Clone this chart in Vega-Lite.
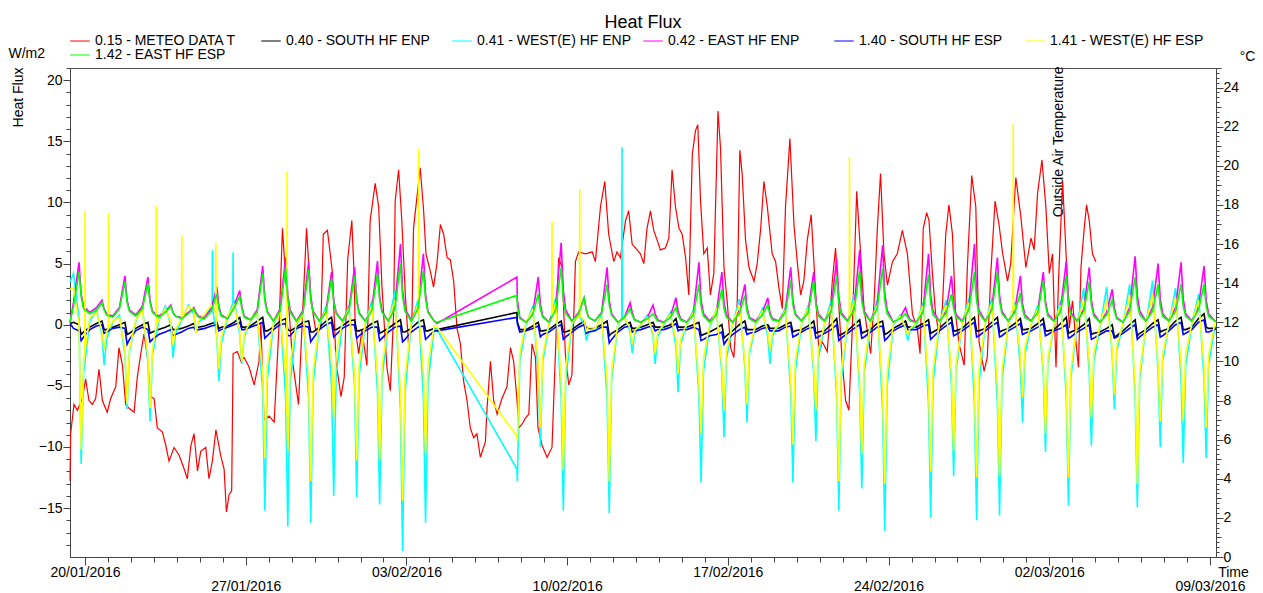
{
"$schema":"https://vega.github.io/schema/vega-lite/v6.json",
"width":1146,"height":489,
"autosize":"none",
"padding":{"left":70,"top":68,"right":47,"bottom":36},
"background":"white",
"title":{"text":"Heat Flux","anchor":"middle","font":"Liberation Sans","fontSize":18,"fontWeight":"normal","color":"#000","offset":2},
"config":{
"view":{"stroke":"#555","strokeWidth":1},
"axis":{"labelFont":"Liberation Sans","labelFontSize":14,"labelColor":"#000","titleFont":"Liberation Sans","titleFontSize":14,"titleFontWeight":"normal","titleColor":"#000","domainColor":"#444","tickColor":"#444","grid":false,"labelOverlap":false,"labelFlush":false}
},
"data":{"values":[
{"t":"2016-01-19T08:20","S1":0.1,"W1":3.5,"E1":0.2,"S2":0.1,"W2":2.9,"E2":0.2},
{"t":"2016-01-19T12:00","S1":0.2,"W1":4.2,"E1":1.8,"S2":-0.3,"W2":3.0,"E2":1.5},
{"t":"2016-01-19T17:45","S1":0.0,"W1":0.5,"E1":5.1,"S2":-0.5,"W2":0.0,"E2":4.3},
{"t":"2016-01-19T20:00","S1":-0.8,"W1":-11.4,"E1":2.5,"S2":-1.3,"W2":-10.2,"E2":2.3},
{"t":"2016-01-19T22:30","S1":-0.6,"W1":-4.0,"E1":1.5,"S2":-1.0,"W2":-3.0,"E2":1.3},
{"t":"2016-01-20T05:00","S1":-0.2,"W1":0.3,"E1":1.0,"S2":-0.4,"W2":0.6,"E2":0.9},
{"t":"2016-01-20T12:00","S1":0.1,"W1":1.2,"E1":1.4,"S2":-0.1,"W2":1.0,"E2":1.2},
{"t":"2016-01-20T17:45","S1":0.3,"W1":-0.8,"E1":2.0,"S2":0.0,"W2":-0.5,"E2":1.8},
{"t":"2016-01-20T20:00","S1":-0.4,"W1":-3.3,"E1":1.3,"S2":-0.7,"W2":-2.0,"E2":1.2},
{"t":"2016-01-20T22:30","S1":-0.4,"W1":-1.2,"E1":0.9,"S2":-0.6,"W2":-0.6,"E2":0.8},
{"t":"2016-01-21T05:00","S1":-0.2,"W1":0.2,"E1":0.7,"S2":-0.3,"W2":0.3,"E2":0.6},
{"t":"2016-01-21T12:00","S1":0.0,"W1":0.8,"E1":1.4,"S2":-0.2,"W2":0.6,"E2":1.3},
{"t":"2016-01-21T17:45","S1":0.2,"W1":-2.5,"E1":4.0,"S2":-0.3,"W2":-2.0,"E2":3.5},
{"t":"2016-01-21T20:00","S1":-0.8,"W1":-6.9,"E1":2.0,"S2":-1.6,"W2":-6.5,"E2":1.8},
{"t":"2016-01-21T22:30","S1":-0.7,"W1":-2.2,"E1":1.2,"S2":-1.2,"W2":-2.0,"E2":1.1},
{"t":"2016-01-22T05:00","S1":-0.3,"W1":0.3,"E1":0.8,"S2":-0.5,"W2":0.4,"E2":0.7},
{"t":"2016-01-22T12:00","S1":0.0,"W1":1.5,"E1":1.5,"S2":-0.2,"W2":1.2,"E2":1.3},
{"t":"2016-01-22T17:45","S1":0.2,"W1":-3.0,"E1":3.9,"S2":-0.4,"W2":-2.5,"E2":3.4},
{"t":"2016-01-22T20:00","S1":-0.7,"W1":-7.9,"E1":2.0,"S2":-1.4,"W2":-6.8,"E2":1.8},
{"t":"2016-01-22T22:30","S1":-0.6,"W1":-2.5,"E1":1.1,"S2":-1.2,"W2":-2.1,"E2":1.0},
{"t":"2016-01-23T05:00","S1":-0.4,"W1":0.3,"E1":0.7,"S2":-0.8,"W2":0.4,"E2":0.6},
{"t":"2016-01-23T12:00","S1":-0.2,"W1":1.5,"E1":1.1,"S2":-0.6,"W2":1.3,"E2":1.0},
{"t":"2016-01-23T17:45","S1":0.0,"W1":0.0,"E1":1.6,"S2":-0.4,"W2":0.3,"E2":1.5},
{"t":"2016-01-23T20:00","S1":-0.4,"W1":-2.7,"E1":1.0,"S2":-0.9,"W2":-1.7,"E2":1.0},
{"t":"2016-01-23T22:30","S1":-0.4,"W1":-0.8,"E1":0.7,"S2":-0.8,"W2":-0.4,"E2":0.7},
{"t":"2016-01-24T05:00","S1":-0.3,"W1":0.4,"E1":0.6,"S2":-0.6,"W2":0.5,"E2":0.5},
{"t":"2016-01-24T12:00","S1":-0.1,"W1":1.6,"E1":1.0,"S2":-0.3,"W2":1.5,"E2":0.9},
{"t":"2016-01-24T17:45","S1":0.1,"W1":0.9,"E1":1.4,"S2":-0.2,"W2":1.2,"E2":1.3},
{"t":"2016-01-24T20:00","S1":-0.2,"W1":-0.5,"E1":1.0,"S2":-0.5,"W2":-0.7,"E2":0.9},
{"t":"2016-01-24T22:30","S1":-0.2,"W1":0.2,"E1":0.7,"S2":-0.4,"W2":0.3,"E2":0.6},
{"t":"2016-01-25T05:00","S1":-0.1,"W1":0.6,"E1":0.6,"S2":-0.3,"W2":0.9,"E2":0.5},
{"t":"2016-01-25T12:00","S1":0.1,"W1":1.5,"E1":1.3,"S2":-0.1,"W2":1.6,"E2":1.1},
{"t":"2016-01-25T17:45","S1":0.2,"W1":-1.0,"E1":3.1,"S2":0.0,"W2":-0.8,"E2":2.5},
{"t":"2016-01-25T20:00","S1":-0.3,"W1":-4.6,"E1":1.5,"S2":-0.5,"W2":-3.6,"E2":1.3},
{"t":"2016-01-25T22:30","S1":-0.2,"W1":-1.5,"E1":0.8,"S2":-0.4,"W2":-1.0,"E2":0.7},
{"t":"2016-01-26T05:00","S1":-0.1,"W1":0.5,"E1":0.5,"S2":-0.2,"W2":0.7,"E2":0.5},
{"t":"2016-01-26T12:00","S1":0.2,"W1":2.0,"E1":1.6,"S2":0.0,"W2":1.6,"E2":1.4},
{"t":"2016-01-26T17:45","S1":0.6,"W1":-0.8,"E1":2.8,"S2":0.2,"W2":-0.5,"E2":2.3},
{"t":"2016-01-26T20:00","S1":-0.2,"W1":-3.2,"E1":1.5,"S2":-0.4,"W2":-3.0,"E2":1.3},
{"t":"2016-01-26T22:30","S1":-0.2,"W1":-1.0,"E1":0.7,"S2":-0.4,"W2":-0.8,"E2":0.6},
{"t":"2016-01-27T05:00","S1":-0.1,"W1":0.3,"E1":0.4,"S2":-0.2,"W2":0.4,"E2":0.4},
{"t":"2016-01-27T12:00","S1":0.3,"W1":1.0,"E1":1.2,"S2":0.0,"W2":1.0,"E2":1.0},
{"t":"2016-01-27T17:45","S1":0.6,"W1":-5.5,"E1":4.8,"S2":0.2,"W2":-4.0,"E2":4.2},
{"t":"2016-01-27T20:00","S1":-0.5,"W1":-15.2,"E1":2.2,"S2":-1.1,"W2":-10.9,"E2":1.9},
{"t":"2016-01-27T22:30","S1":-0.5,"W1":-4.5,"E1":1.1,"S2":-0.9,"W2":-3.3,"E2":1.0},
{"t":"2016-01-28T05:00","S1":-0.2,"W1":0.0,"E1":0.3,"S2":-0.4,"W2":0.2,"E2":0.3},
{"t":"2016-01-28T12:00","S1":0.3,"W1":1.2,"E1":1.3,"S2":0.0,"W2":1.0,"E2":1.1},
{"t":"2016-01-28T17:45","S1":0.5,"W1":-6.0,"E1":5.5,"S2":0.1,"W2":-4.0,"E2":4.7},
{"t":"2016-01-28T20:00","S1":-0.4,"W1":-16.5,"E1":2.4,"S2":-0.9,"W2":-10.3,"E2":2.1},
{"t":"2016-01-28T22:30","S1":-0.5,"W1":-4.8,"E1":1.2,"S2":-0.9,"W2":-3.1,"E2":1.0},
{"t":"2016-01-29T05:00","S1":-0.2,"W1":0.0,"E1":0.3,"S2":-0.3,"W2":0.2,"E2":0.3},
{"t":"2016-01-29T12:00","S1":0.2,"W1":1.0,"E1":1.2,"S2":-0.1,"W2":0.8,"E2":1.0},
{"t":"2016-01-29T17:45","S1":0.3,"W1":-6.0,"E1":5.1,"S2":-0.2,"W2":-4.5,"E2":4.5},
{"t":"2016-01-29T20:00","S1":-0.6,"W1":-16.2,"E1":2.3,"S2":-1.4,"W2":-12.8,"E2":2.0},
{"t":"2016-01-29T22:30","S1":-0.6,"W1":-4.8,"E1":1.1,"S2":-1.1,"W2":-3.8,"E2":1.0},
{"t":"2016-01-30T05:00","S1":-0.2,"W1":0.0,"E1":0.3,"S2":-0.4,"W2":0.2,"E2":0.3},
{"t":"2016-01-30T12:00","S1":0.3,"W1":1.5,"E1":1.2,"S2":0.0,"W2":1.2,"E2":1.0},
{"t":"2016-01-30T17:45","S1":0.6,"W1":-5.0,"E1":4.3,"S2":0.2,"W2":-3.0,"E2":3.8},
{"t":"2016-01-30T20:00","S1":-0.4,"W1":-14.0,"E1":2.0,"S2":-1.0,"W2":-7.6,"E2":1.8},
{"t":"2016-01-30T22:30","S1":-0.4,"W1":-4.2,"E1":1.0,"S2":-0.8,"W2":-2.3,"E2":0.9},
{"t":"2016-01-31T05:00","S1":-0.1,"W1":0.0,"E1":0.3,"S2":-0.3,"W2":0.2,"E2":0.3},
{"t":"2016-01-31T12:00","S1":0.3,"W1":1.6,"E1":1.3,"S2":0.0,"W2":1.3,"E2":1.1},
{"t":"2016-01-31T17:45","S1":0.4,"W1":-5.0,"E1":4.7,"S2":0.0,"W2":-4.0,"E2":4.0},
{"t":"2016-01-31T20:00","S1":-0.5,"W1":-14.1,"E1":2.1,"S2":-1.1,"W2":-11.1,"E2":1.9},
{"t":"2016-01-31T22:30","S1":-0.5,"W1":-4.2,"E1":1.0,"S2":-0.9,"W2":-3.3,"E2":0.9},
{"t":"2016-02-01T05:00","S1":-0.3,"W1":0.0,"E1":0.3,"S2":-0.5,"W2":0.2,"E2":0.3},
{"t":"2016-02-01T12:00","S1":0.1,"W1":2.0,"E1":1.4,"S2":-0.2,"W2":1.5,"E2":1.2},
{"t":"2016-02-01T17:45","S1":0.3,"W1":-5.5,"E1":5.2,"S2":-0.2,"W2":-4.2,"E2":4.2},
{"t":"2016-02-01T20:00","S1":-0.7,"W1":-14.7,"E1":2.3,"S2":-1.3,"W2":-11.1,"E2":2.0},
{"t":"2016-02-01T22:30","S1":-0.6,"W1":-4.4,"E1":1.1,"S2":-1.1,"W2":-3.3,"E2":1.0},
{"t":"2016-02-02T05:00","S1":-0.3,"W1":0.0,"E1":0.3,"S2":-0.6,"W2":0.2,"E2":0.3},
{"t":"2016-02-02T12:00","S1":0.1,"W1":2.8,"E1":1.5,"S2":-0.2,"W2":2.0,"E2":1.3},
{"t":"2016-02-02T17:45","S1":0.4,"W1":-7.0,"E1":6.6,"S2":-0.1,"W2":-5.5,"E2":5.0},
{"t":"2016-02-02T20:00","S1":-0.6,"W1":-18.5,"E1":2.8,"S2":-1.4,"W2":-14.4,"E2":2.3},
{"t":"2016-02-02T22:30","S1":-0.6,"W1":-5.5,"E1":1.3,"S2":-1.2,"W2":-4.3,"E2":1.1},
{"t":"2016-02-03T05:00","S1":-0.3,"W1":0.0,"E1":0.4,"S2":-0.6,"W2":0.2,"E2":0.3},
{"t":"2016-02-03T12:00","S1":0.2,"W1":2.0,"E1":1.5,"S2":-0.2,"W2":1.6,"E2":1.3},
{"t":"2016-02-03T17:45","S1":0.4,"W1":-6.0,"E1":5.8,"S2":-0.1,"W2":-4.0,"E2":4.4},
{"t":"2016-02-03T20:00","S1":-0.5,"W1":-16.2,"E1":2.5,"S2":-1.2,"W2":-10.6,"E2":2.1},
{"t":"2016-02-03T22:30","S1":-0.5,"W1":-4.8,"E1":1.1,"S2":-1.0,"W2":-3.2,"E2":1.0},
{"t":"2016-02-04T05:00","S1":-0.3,"W1":-0.3,"E1":0.3,"S2":-0.5,"W2":-0.1,"E2":0.3},
{"t":"2016-02-04T08:00","S1":-0.4,"W1":-0.4,"E1":0.1,"S2":-0.5,"W2":-0.2,"E2":0.2},
{"t":"2016-02-07T19:30","S1":1.0,"W1":-11.8,"E1":3.9,"S2":0.6,"W2":-9.1,"E2":2.4},
{"t":"2016-02-07T20:00","S1":0.2,"W1":-12.8,"E1":2.0,"S2":0.1,"W2":-9.5,"E2":1.5},
{"t":"2016-02-07T22:30","S1":-0.4,"W1":-3.0,"E1":0.6,"S2":-0.6,"W2":-2.3,"E2":0.5},
{"t":"2016-02-08T05:00","S1":-0.4,"W1":0.0,"E1":0.2,"S2":-0.5,"W2":0.2,"E2":0.2},
{"t":"2016-02-08T12:00","S1":-0.1,"W1":1.5,"E1":0.9,"S2":-0.3,"W2":1.2,"E2":0.8},
{"t":"2016-02-08T17:45","S1":0.2,"W1":-3.8,"E1":3.9,"S2":-0.1,"W2":-3.0,"E2":2.5},
{"t":"2016-02-08T20:00","S1":-0.5,"W1":-10.0,"E1":1.7,"S2":-1.0,"W2":-8.4,"E2":1.3},
{"t":"2016-02-08T22:30","S1":-0.5,"W1":-3.0,"E1":0.7,"S2":-0.8,"W2":-2.5,"E2":0.6},
{"t":"2016-02-09T05:00","S1":-0.4,"W1":0.0,"E1":0.2,"S2":-0.6,"W2":0.2,"E2":0.2},
{"t":"2016-02-09T12:00","S1":0.0,"W1":2.2,"E1":1.5,"S2":-0.2,"W2":1.8,"E2":1.2},
{"t":"2016-02-09T17:45","S1":0.3,"W1":-6.0,"E1":6.7,"S2":0.0,"W2":-4.5,"E2":4.7},
{"t":"2016-02-09T20:00","S1":-0.6,"W1":-15.2,"E1":2.8,"S2":-1.2,"W2":-11.9,"E2":2.0},
{"t":"2016-02-09T22:30","S1":-0.6,"W1":-4.5,"E1":1.2,"S2":-1.0,"W2":-3.5,"E2":0.9},
{"t":"2016-02-10T05:00","S1":-0.4,"W1":0.0,"E1":0.3,"S2":-0.6,"W2":0.2,"E2":0.3},
{"t":"2016-02-10T12:00","S1":0.0,"W1":0.8,"E1":1.0,"S2":-0.2,"W2":0.7,"E2":0.9},
{"t":"2016-02-10T17:45","S1":0.3,"W1":0.0,"E1":2.2,"S2":0.0,"W2":0.4,"E2":2.2},
{"t":"2016-02-10T20:00","S1":-0.3,"W1":-1.3,"E1":1.2,"S2":-0.7,"W2":-0.5,"E2":1.2},
{"t":"2016-02-10T22:30","S1":-0.3,"W1":-0.6,"E1":0.6,"S2":-0.6,"W2":-0.2,"E2":0.6},
{"t":"2016-02-11T05:00","S1":-0.3,"W1":-0.5,"E1":0.3,"S2":-0.5,"W2":-0.3,"E2":0.3},
{"t":"2016-02-11T12:00","S1":0.0,"W1":0.8,"E1":1.0,"S2":-0.2,"W2":0.6,"E2":0.9},
{"t":"2016-02-11T17:45","S1":0.3,"W1":-6.0,"E1":4.7,"S2":-0.2,"W2":-4.5,"E2":3.3},
{"t":"2016-02-11T20:00","S1":-0.9,"W1":-15.4,"E1":2.0,"S2":-1.5,"W2":-12.8,"E2":1.6},
{"t":"2016-02-11T22:30","S1":-0.7,"W1":-4.5,"E1":0.9,"S2":-1.2,"W2":-3.8,"E2":0.8},
{"t":"2016-02-12T05:00","S1":-0.4,"W1":0.0,"E1":0.2,"S2":-0.6,"W2":0.1,"E2":0.2},
{"t":"2016-02-12T12:00","S1":0.0,"W1":0.7,"E1":0.6,"S2":-0.2,"W2":0.6,"E2":0.6},
{"t":"2016-02-12T17:45","S1":0.2,"W1":-0.6,"E1":1.8,"S2":-0.1,"W2":-0.3,"E2":1.3},
{"t":"2016-02-12T20:00","S1":-0.3,"W1":-2.3,"E1":1.0,"S2":-0.6,"W2":-1.6,"E2":0.8},
{"t":"2016-02-12T22:30","S1":-0.3,"W1":-0.8,"E1":0.4,"S2":-0.5,"W2":-0.5,"E2":0.4},
{"t":"2016-02-13T05:00","S1":-0.2,"W1":0.0,"E1":0.2,"S2":-0.4,"W2":0.1,"E2":0.2},
{"t":"2016-02-13T12:00","S1":0.0,"W1":0.8,"E1":0.6,"S2":-0.2,"W2":0.6,"E2":0.5},
{"t":"2016-02-13T17:45","S1":0.2,"W1":-0.9,"E1":1.6,"S2":-0.1,"W2":-0.6,"E2":0.9},
{"t":"2016-02-13T20:00","S1":-0.2,"W1":-3.2,"E1":0.9,"S2":-0.5,"W2":-2.4,"E2":0.6},
{"t":"2016-02-13T22:30","S1":-0.2,"W1":-1.0,"E1":0.4,"S2":-0.4,"W2":-0.7,"E2":0.3},
{"t":"2016-02-14T05:00","S1":-0.2,"W1":0.0,"E1":0.2,"S2":-0.4,"W2":0.1,"E2":0.2},
{"t":"2016-02-14T12:00","S1":0.0,"W1":1.0,"E1":0.7,"S2":-0.2,"W2":0.8,"E2":0.6},
{"t":"2016-02-14T17:45","S1":0.5,"W1":-1.8,"E1":2.2,"S2":0.1,"W2":-1.2,"E2":1.4},
{"t":"2016-02-14T20:00","S1":-0.2,"W1":-5.5,"E1":1.1,"S2":-0.5,"W2":-4.0,"E2":0.8},
{"t":"2016-02-14T22:30","S1":-0.2,"W1":-1.6,"E1":0.5,"S2":-0.4,"W2":-1.2,"E2":0.4},
{"t":"2016-02-15T05:00","S1":-0.2,"W1":0.0,"E1":0.2,"S2":-0.4,"W2":0.1,"E2":0.2},
{"t":"2016-02-15T12:00","S1":0.0,"W1":1.2,"E1":1.0,"S2":-0.2,"W2":1.0,"E2":0.8},
{"t":"2016-02-15T17:45","S1":0.2,"W1":-5.8,"E1":5.1,"S2":-0.4,"W2":-4.8,"E2":3.3},
{"t":"2016-02-15T20:00","S1":-0.9,"W1":-12.9,"E1":2.0,"S2":-1.3,"W2":-8.9,"E2":1.5},
{"t":"2016-02-15T22:30","S1":-0.8,"W1":-3.8,"E1":0.9,"S2":-1.2,"W2":-2.7,"E2":0.7},
{"t":"2016-02-16T05:00","S1":-0.6,"W1":-0.2,"E1":0.3,"S2":-0.9,"W2":0.0,"E2":0.2},
{"t":"2016-02-16T12:00","S1":-0.3,"W1":1.3,"E1":1.0,"S2":-0.8,"W2":1.2,"E2":0.8},
{"t":"2016-02-16T17:45","S1":0.0,"W1":-4.0,"E1":4.3,"S2":-0.6,"W2":-3.5,"E2":2.9},
{"t":"2016-02-16T20:00","S1":-1.1,"W1":-9.2,"E1":1.8,"S2":-1.6,"W2":-7.0,"E2":1.3},
{"t":"2016-02-16T22:30","S1":-0.9,"W1":-2.8,"E1":0.8,"S2":-1.3,"W2":-2.1,"E2":0.6},
{"t":"2016-02-17T05:00","S1":-0.5,"W1":0.0,"E1":0.2,"S2":-0.8,"W2":0.1,"E2":0.2},
{"t":"2016-02-17T12:00","S1":0.0,"W1":2.1,"E1":1.2,"S2":-0.4,"W2":1.6,"E2":0.9},
{"t":"2016-02-17T17:45","S1":0.3,"W1":-3.5,"E1":3.3,"S2":-0.2,"W2":-3.0,"E2":2.4},
{"t":"2016-02-17T20:00","S1":-0.4,"W1":-8.0,"E1":1.4,"S2":-0.8,"W2":-6.5,"E2":1.1},
{"t":"2016-02-17T22:30","S1":-0.4,"W1":-2.4,"E1":0.6,"S2":-0.7,"W2":-2.0,"E2":0.5},
{"t":"2016-02-18T05:00","S1":-0.4,"W1":0.0,"E1":0.3,"S2":-0.6,"W2":0.1,"E2":0.2},
{"t":"2016-02-18T12:00","S1":-0.1,"W1":1.3,"E1":1.0,"S2":-0.3,"W2":1.1,"E2":0.8},
{"t":"2016-02-18T17:45","S1":0.0,"W1":-1.0,"E1":2.2,"S2":-0.2,"W2":-0.6,"E2":1.6},
{"t":"2016-02-18T20:00","S1":-0.3,"W1":-3.2,"E1":1.0,"S2":-0.5,"W2":-2.1,"E2":0.8},
{"t":"2016-02-18T22:30","S1":-0.3,"W1":-1.0,"E1":0.5,"S2":-0.5,"W2":-0.7,"E2":0.4},
{"t":"2016-02-19T05:00","S1":-0.3,"W1":0.0,"E1":0.3,"S2":-0.5,"W2":0.1,"E2":0.3},
{"t":"2016-02-19T12:00","S1":0.0,"W1":1.4,"E1":1.2,"S2":-0.2,"W2":1.2,"E2":1.0},
{"t":"2016-02-19T17:45","S1":0.2,"W1":-5.5,"E1":4.7,"S2":-0.1,"W2":-4.5,"E2":3.6},
{"t":"2016-02-19T20:00","S1":-0.6,"W1":-12.9,"E1":2.0,"S2":-1.0,"W2":-9.8,"E2":1.6},
{"t":"2016-02-19T22:30","S1":-0.5,"W1":-3.8,"E1":0.9,"S2":-0.9,"W2":-2.9,"E2":0.8},
{"t":"2016-02-20T05:00","S1":-0.4,"W1":0.0,"E1":0.3,"S2":-0.6,"W2":0.1,"E2":0.3},
{"t":"2016-02-20T12:00","S1":-0.1,"W1":1.6,"E1":1.2,"S2":-0.3,"W2":1.4,"E2":1.0},
{"t":"2016-02-20T17:45","S1":0.3,"W1":-4.0,"E1":4.3,"S2":-0.2,"W2":-3.5,"E2":3.6},
{"t":"2016-02-20T20:00","S1":-0.7,"W1":-9.5,"E1":1.9,"S2":-1.1,"W2":-7.0,"E2":1.6},
{"t":"2016-02-20T22:30","S1":-0.6,"W1":-2.8,"E1":0.9,"S2":-1.0,"W2":-2.1,"E2":0.7},
{"t":"2016-02-21T05:00","S1":-0.5,"W1":0.0,"E1":0.3,"S2":-0.7,"W2":0.1,"E2":0.3},
{"t":"2016-02-21T12:00","S1":0.0,"W1":2.0,"E1":1.4,"S2":-0.4,"W2":1.5,"E2":1.1},
{"t":"2016-02-21T17:45","S1":0.5,"W1":-6.0,"E1":5.4,"S2":0.0,"W2":-5.0,"E2":4.0},
{"t":"2016-02-21T20:00","S1":-0.9,"W1":-15.2,"E1":2.3,"S2":-1.3,"W2":-12.8,"E2":1.8},
{"t":"2016-02-21T22:30","S1":-0.8,"W1":-4.5,"E1":1.0,"S2":-1.1,"W2":-3.8,"E2":0.8},
{"t":"2016-02-22T05:00","S1":-0.5,"W1":0.0,"E1":0.3,"S2":-0.7,"W2":0.1,"E2":0.3},
{"t":"2016-02-22T12:00","S1":0.0,"W1":2.5,"E1":1.5,"S2":-0.3,"W2":2.0,"E2":1.2},
{"t":"2016-02-22T17:45","S1":0.4,"W1":-5.5,"E1":6.1,"S2":0.0,"W2":-4.5,"E2":4.4},
{"t":"2016-02-22T20:00","S1":-0.7,"W1":-13.4,"E1":2.5,"S2":-1.1,"W2":-10.6,"E2":1.9},
{"t":"2016-02-22T22:30","S1":-0.6,"W1":-4.0,"E1":1.1,"S2":-1.0,"W2":-3.2,"E2":0.9},
{"t":"2016-02-23T05:00","S1":-0.4,"W1":0.0,"E1":0.3,"S2":-0.6,"W2":0.1,"E2":0.3},
{"t":"2016-02-23T12:00","S1":0.1,"W1":2.0,"E1":1.6,"S2":-0.2,"W2":1.6,"E2":1.3},
{"t":"2016-02-23T17:45","S1":0.3,"W1":-7.0,"E1":6.5,"S2":-0.1,"W2":-5.5,"E2":4.6},
{"t":"2016-02-23T20:00","S1":-0.8,"W1":-16.9,"E1":2.6,"S2":-1.3,"W2":-13.0,"E2":2.0},
{"t":"2016-02-23T22:30","S1":-0.7,"W1":-5.0,"E1":1.2,"S2":-1.1,"W2":-3.9,"E2":0.9},
{"t":"2016-02-24T05:00","S1":-0.3,"W1":0.0,"E1":0.2,"S2":-0.5,"W2":0.1,"E2":0.2},
{"t":"2016-02-24T12:00","S1":0.0,"W1":0.8,"E1":0.6,"S2":-0.2,"W2":0.7,"E2":0.5},
{"t":"2016-02-24T17:45","S1":0.3,"W1":-0.3,"E1":1.4,"S2":0.0,"W2":-0.2,"E2":0.9},
{"t":"2016-02-24T20:00","S1":-0.2,"W1":-1.3,"E1":0.8,"S2":-0.4,"W2":-0.8,"E2":0.6},
{"t":"2016-02-24T22:30","S1":-0.2,"W1":-0.5,"E1":0.4,"S2":-0.4,"W2":-0.3,"E2":0.3},
{"t":"2016-02-25T05:00","S1":-0.2,"W1":0.0,"E1":0.2,"S2":-0.4,"W2":0.1,"E2":0.2},
{"t":"2016-02-25T12:00","S1":0.1,"W1":1.8,"E1":1.2,"S2":-0.1,"W2":1.5,"E2":1.0},
{"t":"2016-02-25T17:45","S1":0.4,"W1":-6.5,"E1":5.8,"S2":0.0,"W2":-5.0,"E2":4.1},
{"t":"2016-02-25T20:00","S1":-0.7,"W1":-15.8,"E1":2.4,"S2":-1.2,"W2":-12.0,"E2":1.8},
{"t":"2016-02-25T22:30","S1":-0.6,"W1":-4.7,"E1":1.1,"S2":-1.0,"W2":-3.6,"E2":0.8},
{"t":"2016-02-26T05:00","S1":-0.3,"W1":0.0,"E1":0.3,"S2":-0.5,"W2":0.1,"E2":0.3},
{"t":"2016-02-26T12:00","S1":0.2,"W1":2.0,"E1":1.1,"S2":-0.1,"W2":1.6,"E2":0.9},
{"t":"2016-02-26T17:45","S1":0.6,"W1":-5.0,"E1":4.0,"S2":0.2,"W2":-4.0,"E2":2.5},
{"t":"2016-02-26T20:00","S1":-0.5,"W1":-12.4,"E1":1.8,"S2":-0.9,"W2":-10.3,"E2":1.3},
{"t":"2016-02-26T22:30","S1":-0.5,"W1":-3.7,"E1":0.8,"S2":-0.8,"W2":-3.1,"E2":0.6},
{"t":"2016-02-27T05:00","S1":-0.3,"W1":0.0,"E1":0.3,"S2":-0.5,"W2":0.1,"E2":0.3},
{"t":"2016-02-27T12:00","S1":0.2,"W1":2.2,"E1":1.5,"S2":-0.1,"W2":1.8,"E2":1.2},
{"t":"2016-02-27T17:45","S1":0.6,"W1":-6.5,"E1":6.6,"S2":0.2,"W2":-5.0,"E2":4.3},
{"t":"2016-02-27T20:00","S1":-0.5,"W1":-16.0,"E1":2.6,"S2":-1.0,"W2":-12.5,"E2":1.9},
{"t":"2016-02-27T22:30","S1":-0.5,"W1":-4.8,"E1":1.2,"S2":-0.9,"W2":-3.7,"E2":0.9},
{"t":"2016-02-28T05:00","S1":-0.3,"W1":0.0,"E1":0.3,"S2":-0.5,"W2":0.1,"E2":0.3},
{"t":"2016-02-28T12:00","S1":0.2,"W1":2.2,"E1":1.4,"S2":-0.1,"W2":1.8,"E2":1.2},
{"t":"2016-02-28T17:45","S1":0.6,"W1":-6.5,"E1":5.5,"S2":0.2,"W2":-5.0,"E2":4.3},
{"t":"2016-02-28T20:00","S1":-0.6,"W1":-15.6,"E1":2.4,"S2":-1.0,"W2":-12.4,"E2":1.9},
{"t":"2016-02-28T22:30","S1":-0.5,"W1":-4.7,"E1":1.1,"S2":-0.9,"W2":-3.7,"E2":0.9},
{"t":"2016-02-29T05:00","S1":-0.3,"W1":0.0,"E1":0.3,"S2":-0.5,"W2":0.1,"E2":0.3},
{"t":"2016-02-29T12:00","S1":0.1,"W1":1.8,"E1":1.2,"S2":-0.2,"W2":1.5,"E2":1.0},
{"t":"2016-02-29T17:45","S1":0.5,"W1":-3.5,"E1":4.0,"S2":0.1,"W2":-2.5,"E2":2.6},
{"t":"2016-02-29T20:00","S1":-0.4,"W1":-8.0,"E1":1.7,"S2":-0.8,"W2":-5.9,"E2":1.3},
{"t":"2016-02-29T22:30","S1":-0.4,"W1":-2.4,"E1":0.8,"S2":-0.7,"W2":-1.8,"E2":0.6},
{"t":"2016-03-01T05:00","S1":-0.3,"W1":0.0,"E1":0.3,"S2":-0.5,"W2":0.1,"E2":0.3},
{"t":"2016-03-01T12:00","S1":0.1,"W1":1.6,"E1":1.2,"S2":-0.2,"W2":1.3,"E2":1.0},
{"t":"2016-03-01T17:45","S1":0.5,"W1":-4.0,"E1":4.3,"S2":0.1,"W2":-3.5,"E2":3.6},
{"t":"2016-03-01T20:00","S1":-0.5,"W1":-10.4,"E1":1.9,"S2":-0.9,"W2":-8.9,"E2":1.6},
{"t":"2016-03-01T22:30","S1":-0.5,"W1":-3.1,"E1":0.9,"S2":-0.8,"W2":-2.7,"E2":0.7},
{"t":"2016-03-02T05:00","S1":-0.4,"W1":0.0,"E1":0.3,"S2":-0.5,"W2":0.1,"E2":0.3},
{"t":"2016-03-02T12:00","S1":0.1,"W1":2.0,"E1":1.4,"S2":-0.3,"W2":1.6,"E2":1.1},
{"t":"2016-03-02T17:45","S1":0.6,"W1":-6.0,"E1":5.2,"S2":0.0,"W2":-5.0,"E2":4.0},
{"t":"2016-03-02T20:00","S1":-0.7,"W1":-14.8,"E1":2.2,"S2":-1.1,"W2":-12.5,"E2":1.8},
{"t":"2016-03-02T22:30","S1":-0.6,"W1":-4.4,"E1":1.0,"S2":-1.0,"W2":-3.7,"E2":0.8},
{"t":"2016-03-03T05:00","S1":-0.4,"W1":0.0,"E1":0.3,"S2":-0.6,"W2":0.1,"E2":0.3},
{"t":"2016-03-03T12:00","S1":0.0,"W1":3.0,"E1":1.3,"S2":-0.3,"W2":2.0,"E2":1.1},
{"t":"2016-03-03T17:45","S1":0.5,"W1":-4.0,"E1":4.7,"S2":0.0,"W2":-3.0,"E2":3.5},
{"t":"2016-03-03T20:00","S1":-0.8,"W1":-9.9,"E1":2.0,"S2":-1.2,"W2":-7.6,"E2":1.6},
{"t":"2016-03-03T22:30","S1":-0.7,"W1":-3.0,"E1":0.9,"S2":-1.1,"W2":-2.3,"E2":0.7},
{"t":"2016-03-04T05:00","S1":-0.6,"W1":-0.2,"E1":0.2,"S2":-0.8,"W2":0.0,"E2":0.2},
{"t":"2016-03-04T12:00","S1":-0.3,"W1":3.1,"E1":1.0,"S2":-0.5,"W2":2.0,"E2":0.8},
{"t":"2016-03-04T17:45","S1":0.0,"W1":-2.5,"E1":2.9,"S2":-0.5,"W2":-2.0,"E2":2.0},
{"t":"2016-03-04T20:00","S1":-1.0,"W1":-6.9,"E1":1.4,"S2":-1.1,"W2":-5.7,"E2":1.1},
{"t":"2016-03-04T22:30","S1":-0.9,"W1":-2.1,"E1":0.6,"S2":-1.0,"W2":-1.7,"E2":0.5},
{"t":"2016-03-05T05:00","S1":-0.5,"W1":0.0,"E1":0.2,"S2":-0.7,"W2":0.1,"E2":0.2},
{"t":"2016-03-05T12:00","S1":0.0,"W1":3.3,"E1":1.4,"S2":-0.3,"W2":2.4,"E2":1.1},
{"t":"2016-03-05T17:45","S1":0.4,"W1":-6.0,"E1":5.6,"S2":0.0,"W2":-5.0,"E2":3.9},
{"t":"2016-03-05T20:00","S1":-0.9,"W1":-14.9,"E1":2.4,"S2":-1.2,"W2":-13.0,"E2":1.7},
{"t":"2016-03-05T22:30","S1":-0.7,"W1":-4.5,"E1":1.1,"S2":-1.0,"W2":-3.9,"E2":0.8},
{"t":"2016-03-06T05:00","S1":-0.4,"W1":0.0,"E1":0.3,"S2":-0.6,"W2":0.1,"E2":0.3},
{"t":"2016-03-06T12:00","S1":0.1,"W1":3.6,"E1":1.4,"S2":-0.2,"W2":2.5,"E2":1.1},
{"t":"2016-03-06T17:45","S1":0.4,"W1":-4.0,"E1":5.0,"S2":0.0,"W2":-3.2,"E2":3.3},
{"t":"2016-03-06T20:00","S1":-0.6,"W1":-10.0,"E1":2.1,"S2":-1.0,"W2":-7.9,"E2":1.5},
{"t":"2016-03-06T22:30","S1":-0.5,"W1":-3.0,"E1":0.9,"S2":-0.9,"W2":-2.4,"E2":0.7},
{"t":"2016-03-07T05:00","S1":-0.3,"W1":0.0,"E1":0.3,"S2":-0.5,"W2":0.1,"E2":0.3},
{"t":"2016-03-07T12:00","S1":0.3,"W1":3.0,"E1":1.4,"S2":0.0,"W2":2.2,"E2":1.1},
{"t":"2016-03-07T17:45","S1":0.6,"W1":-4.5,"E1":5.1,"S2":0.2,"W2":-3.2,"E2":3.3},
{"t":"2016-03-07T20:00","S1":-0.4,"W1":-11.3,"E1":2.1,"S2":-0.8,"W2":-7.9,"E2":1.5},
{"t":"2016-03-07T22:30","S1":-0.4,"W1":-3.4,"E1":0.9,"S2":-0.7,"W2":-2.4,"E2":0.7},
{"t":"2016-03-08T05:00","S1":-0.2,"W1":0.0,"E1":0.3,"S2":-0.4,"W2":0.1,"E2":0.3},
{"t":"2016-03-08T12:00","S1":0.5,"W1":2.5,"E1":1.5,"S2":0.2,"W2":2.0,"E2":1.2},
{"t":"2016-03-08T17:45","S1":0.9,"W1":-4.5,"E1":4.8,"S2":0.4,"W2":-3.4,"E2":3.3},
{"t":"2016-03-08T20:00","S1":-0.2,"W1":-10.9,"E1":2.0,"S2":-0.6,"W2":-8.4,"E2":1.5},
{"t":"2016-03-08T22:30","S1":-0.3,"W1":-3.3,"E1":0.9,"S2":-0.6,"W2":-2.5,"E2":0.7},
{"t":"2016-03-09T05:00","S1":-0.3,"W1":-0.2,"E1":0.3,"S2":-0.4,"W2":0.1,"E2":0.3},
{"t":"2016-03-09T06:15","S1":-0.2,"W1":-0.1,"E1":0.3,"S2":-0.3,"W2":0.3,"E2":0.3},
{"t":"2016-01-19T23:45","W2":-2.2},{"t":"2016-01-20T00:00","W2":9.3},{"t":"2016-01-20T00:15","W2":-2.0},
{"t":"2016-01-21T00:15","W2":-0.3},{"t":"2016-01-21T00:30","W2":9.1},{"t":"2016-01-21T00:45","W2":-0.3},
{"t":"2016-01-23T02:10","W2":-0.2},{"t":"2016-01-23T02:25","W2":9.7},{"t":"2016-01-23T02:40","W2":-0.1},
{"t":"2016-01-24T05:15","W2":7.3},{"t":"2016-01-24T05:30","W2":0.6},
{"t":"2016-01-25T16:35","W2":1.0},{"t":"2016-01-25T16:50","W2":6.7},{"t":"2016-01-25T17:05","W2":0.5},
{"t":"2016-01-28T18:55","W2":-7.3},{"t":"2016-01-28T19:10","W2":12.5},{"t":"2016-01-28T19:25","W2":-8.7},
{"t":"2016-02-03T12:30","W2":1.4},{"t":"2016-02-03T12:45","W2":14.4},{"t":"2016-02-03T13:00","W2":1.0},
{"t":"2016-02-09T07:55","W2":0.5},{"t":"2016-02-09T08:10","W2":8.4},{"t":"2016-02-09T08:25","W2":0.6},
{"t":"2016-02-10T12:55","W2":0.7},{"t":"2016-02-10T13:10","W2":11.1},{"t":"2016-02-10T13:25","W2":0.7},
{"t":"2016-02-22T06:55","W2":0.4},{"t":"2016-02-22T07:10","W2":13.7},{"t":"2016-02-22T07:25","W2":0.5},
{"t":"2016-02-29T10:05","W2":1.2},{"t":"2016-02-29T10:20","W2":16.4},{"t":"2016-02-29T10:35","W2":1.3},
{"t":"2016-01-25T12:55","W1":1.4},{"t":"2016-01-25T13:10","W1":6.1},{"t":"2016-01-25T13:25","W1":1.3},
{"t":"2016-01-26T10:35","W1":1.8},{"t":"2016-01-26T10:50","W1":5.9},{"t":"2016-01-26T11:05","W1":1.8},
{"t":"2016-02-12T09:05","W1":0.5},{"t":"2016-02-12T09:20","W1":14.5},{"t":"2016-02-12T09:35","W1":0.5},
{"t":"2016-01-19T08:20","T":3.9},{"t":"2016-01-19T09:00","T":6.3},{"t":"2016-01-19T12:30","T":7.8},{"t":"2016-01-19T16:00","T":7.5},{"t":"2016-01-19T21:15","T":8.1},
{"t":"2016-01-20T00:40","T":9.1},{"t":"2016-01-20T04:10","T":8.0},{"t":"2016-01-20T07:40","T":7.8},{"t":"2016-01-20T11:10","T":8.1},{"t":"2016-01-20T14:40","T":9.6},{"t":"2016-01-20T18:10","T":8.0},{"t":"2016-01-20T23:15","T":7.4},
{"t":"2016-01-21T02:50","T":8.1},{"t":"2016-01-21T08:10","T":8.7},{"t":"2016-01-21T11:30","T":10.7},{"t":"2016-01-21T15:10","T":9.8},{"t":"2016-01-21T18:30","T":7.8},{"t":"2016-01-21T22:05","T":7.6},
{"t":"2016-01-22T03:20","T":7.4},{"t":"2016-01-22T06:40","T":9.2},{"t":"2016-01-22T10:20","T":10.4},{"t":"2016-01-22T13:40","T":11.4},{"t":"2016-01-22T17:20","T":10.2},{"t":"2016-01-22T20:40","T":8.2},
{"t":"2016-01-23T00:15","T":8.1},{"t":"2016-01-23T03:35","T":6.6},{"t":"2016-01-23T08:50","T":6.4},{"t":"2016-01-23T12:30","T":5.7},{"t":"2016-01-23T15:50","T":4.9},{"t":"2016-01-23T21:05","T":5.6},
{"t":"2016-01-24T02:25","T":5.2},{"t":"2016-01-24T07:40","T":4.5},{"t":"2016-01-24T11:00","T":4.0},{"t":"2016-01-24T14:40","T":5.7},{"t":"2016-01-24T18:00","T":6.3},{"t":"2016-01-24T21:35","T":4.4},
{"t":"2016-01-25T01:00","T":5.4},{"t":"2016-01-25T06:15","T":5.6},{"t":"2016-01-25T09:35","T":4.0},{"t":"2016-01-25T13:10","T":4.9},{"t":"2016-01-25T16:50","T":6.5},{"t":"2016-01-25T21:50","T":5.2},
{"t":"2016-01-26T01:25","T":4.5},{"t":"2016-01-26T03:50","T":2.3},{"t":"2016-01-26T06:40","T":3.2},{"t":"2016-01-26T09:20","T":3.4},{"t":"2016-01-26T10:50","T":10.4},{"t":"2016-01-26T15:20","T":10.5},{"t":"2016-01-26T19:00","T":10.0},{"t":"2016-01-26T22:20","T":10.2},
{"t":"2016-01-27T03:35","T":9.7},{"t":"2016-01-27T08:50","T":8.8},{"t":"2016-01-27T13:55","T":10.0},{"t":"2016-01-27T15:50","T":12.0},{"t":"2016-01-27T19:10","T":7.0},
{"t":"2016-01-28T00:30","T":7.2},{"t":"2016-01-28T05:45","T":6.9},{"t":"2016-01-28T11:00","T":12.0},{"t":"2016-01-28T14:25","T":16.8},{"t":"2016-01-28T18:00","T":14.1},{"t":"2016-01-28T21:20","T":12.6},
{"t":"2016-01-29T01:00","T":10.0},{"t":"2016-01-29T07:10","T":7.8},{"t":"2016-01-29T11:15","T":12.2},{"t":"2016-01-29T15:35","T":16.8},{"t":"2016-01-29T20:10","T":13.1},
{"t":"2016-01-30T01:10","T":11.6},{"t":"2016-01-30T06:30","T":11.7},{"t":"2016-01-30T09:05","T":16.5},{"t":"2016-01-30T13:25","T":16.7},{"t":"2016-01-30T18:45","T":14.5},{"t":"2016-01-30T22:20","T":10.0},
{"t":"2016-01-31T03:35","T":8.2},{"t":"2016-01-31T07:00","T":9.2},{"t":"2016-01-31T10:35","T":15.2},{"t":"2016-01-31T14:55","T":17.2},{"t":"2016-01-31T17:15","T":14.5},{"t":"2016-01-31T18:30","T":11.7},{"t":"2016-01-31T22:05","T":10.4},
{"t":"2016-02-01T01:25","T":11.6},{"t":"2016-02-01T06:40","T":9.8},{"t":"2016-02-01T10:05","T":17.2},{"t":"2016-02-01T15:20","T":19.1},{"t":"2016-02-01T19:00","T":17.9},{"t":"2016-02-01T22:20","T":13.9},
{"t":"2016-02-02T03:35","T":9.7},{"t":"2016-02-02T07:10","T":8.5},{"t":"2016-02-02T10:35","T":12.4},{"t":"2016-02-02T12:15","T":18.2},{"t":"2016-02-02T15:50","T":19.8},{"t":"2016-02-02T19:10","T":17.2},{"t":"2016-02-02T22:50","T":13.4},
{"t":"2016-02-03T02:10","T":10.9},{"t":"2016-02-03T05:45","T":12.1},{"t":"2016-02-03T07:25","T":16.8},{"t":"2016-02-03T11:00","T":18.4},{"t":"2016-02-03T14:25","T":19.9},{"t":"2016-02-03T18:00","T":17.7},{"t":"2016-02-03T20:25","T":15.5},
{"t":"2016-02-04T01:00","T":14.6},{"t":"2016-02-04T04:20","T":13.8},{"t":"2016-02-04T07:55","T":15.0},{"t":"2016-02-04T11:30","T":17.0},{"t":"2016-02-04T14:55","T":16.5},{"t":"2016-02-04T18:30","T":15.3},{"t":"2016-02-04T21:50","T":15.2},
{"t":"2016-02-05T01:25","T":14.1},{"t":"2016-02-05T04:50","T":11.7},{"t":"2016-02-05T08:25","T":10.9},{"t":"2016-02-05T11:45","T":9.0},{"t":"2016-02-05T15:20","T":8.0},{"t":"2016-02-05T18:45","T":6.6},{"t":"2016-02-05T22:20","T":6.1},
{"t":"2016-02-06T01:40","T":6.3},{"t":"2016-02-06T05:15","T":5.1},{"t":"2016-02-06T10:35","T":5.9},{"t":"2016-02-06T12:15","T":7.6},{"t":"2016-02-06T15:50","T":10.0},{"t":"2016-02-06T19:10","T":8.0},{"t":"2016-02-06T22:50","T":7.3},
{"t":"2016-02-07T03:50","T":8.1},{"t":"2016-02-07T09:05","T":8.7},{"t":"2016-02-07T12:45","T":10.7},{"t":"2016-02-07T16:05","T":10.0},{"t":"2016-02-07T19:40","T":8.0},{"t":"2016-02-07T21:20","T":6.6},
{"t":"2016-02-08T01:00","T":6.8},{"t":"2016-02-08T04:20","T":7.1},{"t":"2016-02-08T07:55","T":7.3},{"t":"2016-02-08T11:15","T":10.9},{"t":"2016-02-08T14:55","T":10.2},{"t":"2016-02-08T17:30","T":6.6},{"t":"2016-02-08T21:50","T":5.7},
{"t":"2016-02-09T03:05","T":5.1},{"t":"2016-02-09T08:10","T":5.6},{"t":"2016-02-09T11:45","T":10.4},{"t":"2016-02-09T15:05","T":15.3},{"t":"2016-02-09T18:45","T":14.8},{"t":"2016-02-09T22:05","T":10.4},
{"t":"2016-02-10T01:40","T":8.8},{"t":"2016-02-10T05:00","T":9.3},{"t":"2016-02-10T08:40","T":15.1},{"t":"2016-02-10T12:00","T":15.6},{"t":"2016-02-10T19:10","T":15.5},
{"t":"2016-02-11T02:10","T":15.6},{"t":"2016-02-11T05:30","T":15.1},{"t":"2016-02-11T10:50","T":17.9},{"t":"2016-02-11T15:20","T":19.2},{"t":"2016-02-11T19:25","T":16.5},
{"t":"2016-02-12T00:45","T":15.1},{"t":"2016-02-12T04:05","T":15.6},{"t":"2016-02-12T07:40","T":15.3},{"t":"2016-02-12T13:00","T":17.2},{"t":"2016-02-12T16:20","T":17.7},{"t":"2016-02-12T19:55","T":16.0},
{"t":"2016-02-13T01:10","T":15.7},{"t":"2016-02-13T04:35","T":15.5},{"t":"2016-02-13T08:10","T":15.0},{"t":"2016-02-13T11:30","T":16.8},{"t":"2016-02-13T15:05","T":17.7},{"t":"2016-02-13T18:30","T":16.7},{"t":"2016-02-13T22:05","T":16.2},
{"t":"2016-02-14T01:25","T":15.7},{"t":"2016-02-14T06:40","T":15.8},{"t":"2016-02-14T10:20","T":16.3},{"t":"2016-02-14T13:40","T":19.8},{"t":"2016-02-14T17:15","T":17.9},{"t":"2016-02-14T20:55","T":16.8},
{"t":"2016-02-15T00:15","T":16.5},{"t":"2016-02-15T03:50","T":15.3},{"t":"2016-02-15T07:10","T":13.4},{"t":"2016-02-15T10:50","T":20.6},{"t":"2016-02-15T14:10","T":21.8},{"t":"2016-02-15T16:35","T":22.1},{"t":"2016-02-15T19:25","T":18.2},{"t":"2016-02-15T22:50","T":15.5},
{"t":"2016-02-16T02:25","T":15.8},{"t":"2016-02-16T05:45","T":13.4},{"t":"2016-02-16T09:20","T":14.5},{"t":"2016-02-16T13:40","T":22.8},{"t":"2016-02-16T16:20","T":20.9},{"t":"2016-02-16T19:55","T":14.8},{"t":"2016-02-16T23:15","T":13.1},
{"t":"2016-02-17T02:55","T":10.7},{"t":"2016-02-17T06:15","T":10.2},{"t":"2016-02-17T09:50","T":13.1},{"t":"2016-02-17T12:30","T":20.8},{"t":"2016-02-17T14:55","T":19.6},{"t":"2016-02-17T18:30","T":16.2},{"t":"2016-02-17T22:05","T":14.8},
{"t":"2016-02-18T03:20","T":14.1},{"t":"2016-02-18T06:40","T":15.0},{"t":"2016-02-18T10:20","T":16.8},{"t":"2016-02-18T13:40","T":19.2},{"t":"2016-02-18T17:15","T":17.9},{"t":"2016-02-18T22:20","T":15.5},
{"t":"2016-02-19T01:55","T":15.1},{"t":"2016-02-19T05:15","T":13.8},{"t":"2016-02-19T08:55","T":12.7},{"t":"2016-02-19T12:15","T":17.9},{"t":"2016-02-19T16:50","T":21.4},{"t":"2016-02-19T21:05","T":17.0},
{"t":"2016-02-20T00:30","T":15.1},{"t":"2016-02-20T04:05","T":13.4},{"t":"2016-02-20T07:25","T":14.1},{"t":"2016-02-20T11:00","T":16.2},{"t":"2016-02-20T15:05","T":17.5},{"t":"2016-02-20T18:00","T":15.0},{"t":"2016-02-20T23:15","T":10.4},
{"t":"2016-02-21T02:40","T":11.0},{"t":"2016-02-21T07:55","T":10.5},{"t":"2016-02-21T13:10","T":14.1},{"t":"2016-02-21T16:35","T":15.8},{"t":"2016-02-21T20:10","T":12.7},{"t":"2016-02-21T23:30","T":10.0},
{"t":"2016-02-22T03:05","T":8.0},{"t":"2016-02-22T06:30","T":7.5},{"t":"2016-02-22T10:05","T":11.7},{"t":"2016-02-22T14:40","T":18.7},{"t":"2016-02-22T18:45","T":15.5},{"t":"2016-02-22T22:20","T":12.7},
{"t":"2016-02-23T05:15","T":10.4},{"t":"2016-02-23T08:55","T":13.1},{"t":"2016-02-23T12:15","T":16.8},{"t":"2016-02-23T15:35","T":19.6},{"t":"2016-02-23T19:10","T":15.5},{"t":"2016-02-23T22:50","T":13.9},
{"t":"2016-02-24T04:05","T":15.1},{"t":"2016-02-24T09:05","T":15.5},{"t":"2016-02-24T14:25","T":16.7},{"t":"2016-02-24T19:40","T":15.5},
{"t":"2016-02-25T01:00","T":12.4},{"t":"2016-02-25T06:00","T":11.7},{"t":"2016-02-25T08:55","T":10.4},{"t":"2016-02-25T12:15","T":16.8},{"t":"2016-02-25T15:50","T":17.6},{"t":"2016-02-25T18:15","T":17.2},{"t":"2016-02-25T21:50","T":14.5},
{"t":"2016-02-26T01:10","T":12.4},{"t":"2016-02-26T04:50","T":11.4},{"t":"2016-02-26T08:10","T":12.7},{"t":"2016-02-26T11:45","T":16.5},{"t":"2016-02-26T15:05","T":18.0},{"t":"2016-02-26T18:45","T":16.5},{"t":"2016-02-26T22:05","T":12.4},
{"t":"2016-02-27T01:40","T":10.9},{"t":"2016-02-27T07:00","T":9.8},{"t":"2016-02-27T10:20","T":14.8},{"t":"2016-02-27T14:55","T":19.5},{"t":"2016-02-27T19:10","T":17.9},{"t":"2016-02-27T22:35","T":11.0},
{"t":"2016-02-28T03:50","T":9.5},{"t":"2016-02-28T07:10","T":10.2},{"t":"2016-02-28T10:50","T":14.5},{"t":"2016-02-28T15:20","T":18.2},{"t":"2016-02-28T19:25","T":17.0},{"t":"2016-02-28T23:00","T":15.6},
{"t":"2016-02-29T04:20","T":14.1},{"t":"2016-02-29T07:40","T":15.0},{"t":"2016-02-29T13:00","T":19.4},{"t":"2016-02-29T18:15","T":17.4},{"t":"2016-02-29T23:30","T":14.8},
{"t":"2016-03-01T04:50","T":16.3},{"t":"2016-03-01T08:10","T":15.7},{"t":"2016-03-01T11:45","T":18.6},{"t":"2016-03-01T16:20","T":20.3},{"t":"2016-03-01T20:25","T":17.9},
{"t":"2016-03-02T00:00","T":14.5},{"t":"2016-03-02T03:20","T":15.5},{"t":"2016-03-02T07:00","T":9.7},{"t":"2016-03-02T09:35","T":14.1},{"t":"2016-03-02T13:55","T":19.2},{"t":"2016-03-02T17:15","T":15.8},{"t":"2016-03-02T20:55","T":11.7},
{"t":"2016-03-03T00:15","T":13.1},{"t":"2016-03-03T03:50","T":11.0},{"t":"2016-03-03T06:30","T":9.7},{"t":"2016-03-03T09:05","T":14.8},{"t":"2016-03-03T12:30","T":16.8},{"t":"2016-03-03T14:55","T":18.0},{"t":"2016-03-03T17:45","T":17.2},{"t":"2016-03-03T21:05","T":15.5},
{"t":"2016-03-04T00:45","T":15.1}
]},
"encoding":{
"x":{"field":"t","type":"temporal",
"scale":{"domain":[{"year":2016,"month":1,"date":19,"hours":8,"minutes":20},{"year":2016,"month":3,"date":9,"hours":6,"minutes":15}]},
"axis":{"title":"Time","titleX":1163,"titleY":15,"titleAlign":"center","titleBaseline":"middle",
"tickCount":{"interval":"day","step":1},
"tickSize":{"condition":{"test":"round((datum.value - datetime(2016,0,20))/864e5) % 7 == 0","value":8},"value":5},
"labelExpr":"round((datum.value - datetime(2016,0,20))/864e5) % 14 == 0 ? timeFormat(datum.value, '%d/%m/%Y') : (round((datum.value - datetime(2016,0,20))/864e5) % 14 == 7 ? ['', timeFormat(datum.value, '%d/%m/%Y')] : '')",
"labelPadding":0,"labelLineHeight":14,"labelAlign":"center"}}
},
"layer":[
{
"transform":[{"fold":["T"],"as":["k","v"]},{"filter":"isValid(datum.v)"}],
"mark":{"type":"line","strokeWidth":1.2},
"encoding":{
"y":{"field":"v","type":"quantitative","scale":{"domain":[0,25],"nice":false,"zero":false},
"axis":{"orient":"right","values":[0,0.25,0.5,0.75,1,1.25,1.5,1.75,2,2.25,2.5,2.75,3,3.25,3.5,3.75,4,4.25,4.5,4.75,5,5.25,5.5,5.75,6,6.25,6.5,6.75,7,7.25,7.5,7.75,8,8.25,8.5,8.75,9,9.25,9.5,9.75,10,10.25,10.5,10.75,11,11.25,11.5,11.75,12,12.25,12.5,12.75,13,13.25,13.5,13.75,14,14.25,14.5,14.75,15,15.25,15.5,15.75,16,16.25,16.5,16.75,17,17.25,17.5,17.75,18,18.25,18.5,18.75,19,19.25,19.5,19.75,20,20.25,20.5,20.75,21,21.25,21.5,21.75,22,22.25,22.5,22.75,23,23.25,23.5,23.75,24,24.25,24.5,24.75,25],
"labelExpr":"datum.value % 2 == 0 && datum.value <= 24 ? format(datum.value, 'd') : ''",
"tickSize":{"condition":[{"test":"datum.value % 2 == 0","value":7},{"test":"datum.value % 1 == 0","value":5}],"value":3},
"labelPadding":0,
"title":"Outside Air Temperature","titleAngle":270,"titleX":-158,"titleY":-2,"titleAlign":"right","titleBaseline":"middle"}},
"color":{"field":"k","type":"nominal",
"scale":{"domain":["T","S1","W1","E1","S2","W2","E2"],"range":["#ff0000","#000000","#00ffff","#ff00ff","#0000ff","#ffff00","#00ff00"]},
"legend":{"orient":"none","legendX":3,"legendY":-34,"direction":"horizontal","columns":6,"gridAlign":"all","title":null,
"symbolType":"M-1.5,0L1.5,0","symbolSize":169,"symbolStrokeWidth":1,"labelFont":"Liberation Sans","labelFontSize":14,"labelColor":"#000","labelOffset":8,"columnPadding":9,"rowPadding":0,"padding":0,"labelLimit":300,
"labelExpr":"{'T':'0.15 - METEO DATA T','S1':'0.40 - SOUTH HF ENP','W1':'0.41 - WEST(E) HF ENP','E1':'0.42 - EAST HF ENP','S2':'1.40 - SOUTH HF ESP','W2':'1.41 - WEST(E) HF ESP','E2':'1.42 - EAST HF ESP'}[datum.label]"}}
}
},
{
"transform":[{"fold":["T"],"as":["k","v"]},{"filter":"isValid(datum.v)"}],
"mark":{"type":"line","strokeOpacity":0},
"encoding":{
"y":{"field":"v","type":"quantitative","scale":{"domain":[0,25],"nice":false,"zero":false},
"axis":{"orient":"right","domain":false,"ticks":false,"labels":false,"title":"°C","titleAngle":0,"titleX":31,"titleY":-12,"titleAlign":"center","titleBaseline":"middle"}}
}
},
{
"transform":[{"fold":["S1","W1","E1"],"as":["k","v"]},{"filter":"isValid(datum.v)"}],
"mark":{"type":"line","strokeWidth":1.6},
"encoding":{
"y":{"field":"v","type":"quantitative","scale":{"domain":[-19,21],"nice":false,"zero":false},
"axis":{"orient":"left","values":[-18,-17,-16,-15,-14,-13,-12,-11,-10,-9,-8,-7,-6,-5,-4,-3,-2,-1,0,1,2,3,4,5,6,7,8,9,10,11,12,13,14,15,16,17,18,19,20,21],
"labelExpr":"datum.value % 5 == 0 ? datum.label : ''",
"tickSize":{"condition":{"test":"datum.value % 5 == 0","value":7},"value":4},
"labelPadding":1,
"title":"W/m2","titleAngle":0,"titleAlign":"left","titleBaseline":"middle","titleX":-62,"titleY":-15}},
"color":{"field":"k","type":"nominal","scale":{"domain":["T","S1","W1","E1","S2","W2","E2"],"range":["#ff0000","#000000","#00ffff","#ff00ff","#0000ff","#ffff00","#00ff00"]}}
}
},
{
"transform":[{"fold":["S2","W2","E2"],"as":["k","v"]},{"filter":"isValid(datum.v)"}],
"mark":{"type":"line","strokeWidth":1.6},
"encoding":{
"y":{"field":"v","type":"quantitative","scale":{"domain":[-19,21],"nice":false,"zero":false},
"axis":{"orient":"left","domain":false,"ticks":false,"labels":false,"title":"Heat Flux","titleAngle":270,"titleAlign":"right","titleBaseline":"middle","titleX":-52,"titleY":-1}},
"color":{"field":"k","type":"nominal","scale":{"domain":["T","S1","W1","E1","S2","W2","E2"],"range":["#ff0000","#000000","#00ffff","#ff00ff","#0000ff","#ffff00","#00ff00"]}}
}
}
],
"resolve":{"scale":{"y":"independent"},"axis":{"y":"independent"}}
}
